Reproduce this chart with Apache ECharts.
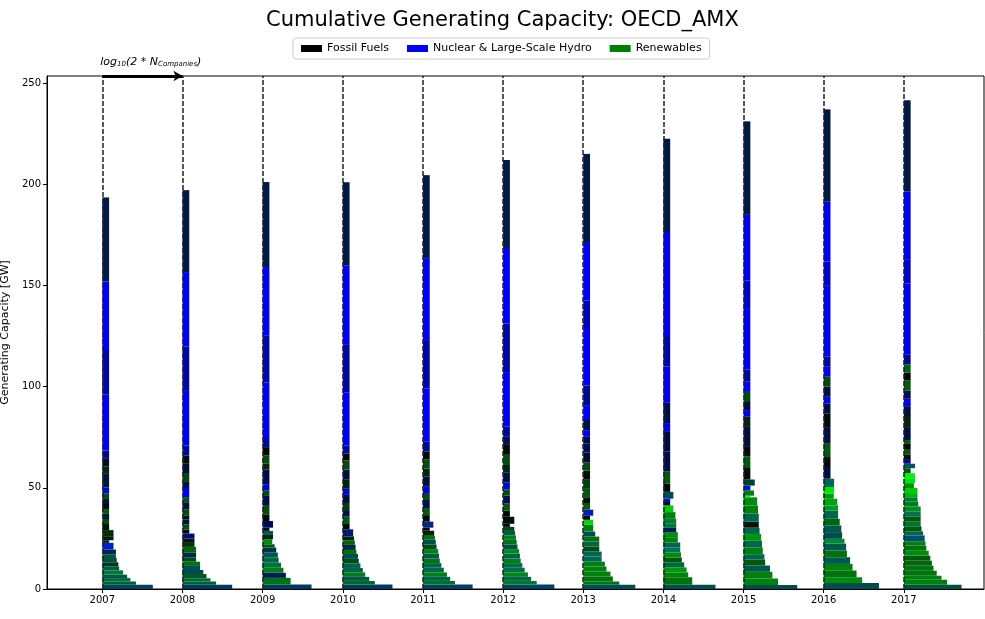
<!DOCTYPE html>
<html>
<head>
<meta charset="utf-8">
<title>Cumulative Generating Capacity</title>
<script src="https://cdn.jsdelivr.net/npm/echarts/dist/echarts.min.js"></script>
<style>
  html, body { margin: 0; padding: 0; background: #fff; }
  #main { width: 985px; height: 619px; }
</style>
</head>
<body>
<div id="main"></div>
<script>
// one row per company group, bottom-up: [capacity GW, bar width (log10 units), nuclear share, renewable share]
const years = [2007, 2008, 2009, 2010, 2011, 2012, 2013, 2014, 2015, 2016, 2017];
const yTicks = [0, 50, 100, 150, 200, 250];

const fleet2007 = [
  [2.1,.63,.38,.25],[1.6,.42,.2,.38],[1.7,.35,.25,.42],[1.7,.31,.25,.36],[2.1,.26,.22,.48],
  [2.0,.21,.3,.36],[2.0,.20,.08,.22],[2.1,.18,.3,.3],[1.7,.17,.12,.36],[2.5,.17,.35,.15],
  [3.3,.14,.8,.12],[1.3,.085,.1,.1],[2.0,.14,.04,.1],[3.0,.14,.04,.17],
  [3.0,.085,.04,.05],[2.5,.085,.05,.3],[2.5,.085,.25,.08],[2.4,.085,.05,.36],[2.5,.085,.03,.04],
  [2.5,.085,.25,.08],[2.8,.085,.05,.3],[2.9,.085,.9,.02],[6.7,.085,.25,.08],[3.6,.085,.04,.16],
  [3.8,.085,.15,.05],[4.1,.085,.55,.03],[27.6,.085,1,0],[22.1,.085,.65,.02],[33.9,.085,1,0],
  [41.5,.085,.27,.1]
];
const fleet2008 = [
  [2.1,.62,.38,.22],[1.6,.42,.2,.38],[1.6,.35,.2,.42],[2.1,.30,.15,.35],[2.0,.26,.3,.3],
  [2.0,.22,.35,.3],[2.1,.22,.1,.45],[2.1,.17,.1,.3],[2.3,.17,.3,.15],[2.9,.17,.05,.4],
  [2.0,.15,.03,.2],[2.1,.15,.03,.1],[2.5,.15,.5,.05],
  [2.0,.085,.03,.04],[2.5,.085,.05,.32],[2.5,.085,.25,.08],[2.0,.085,.03,.04],[3.0,.085,.05,.3],
  [3.5,.085,.25,.08],[2.5,.085,.05,.32],[4.5,.085,1,0],[3.0,.085,.3,.06],[4.0,.085,.05,.28],
  [5.0,.085,.22,.06],[4.0,.085,.03,.05],[5.0,.085,.6,.03],[27,.085,1,0],[22,.085,.65,.02],
  [36.7,.085,1,0],[40.5,.085,.27,.1]
];
const fleet2009 = [
  [2.2,.61,.38,.22],[3.3,.35,.1,.45],[2.5,.29,.35,.1],[2.5,.26,.1,.5],[2.5,.23,.2,.45],
  [2.5,.20,.3,.4],[2.5,.19,.3,.35],[2.5,.17,.3,.2],[1.6,.15,.05,.35],[2.5,.12,.05,.55],
  [2.1,.13,.03,.15],[2.0,.13,.35,.35],[1.6,.085,.03,.04],[3.3,.13,.4,.03],
  [3.3,.085,.03,.03],[4.2,.085,.05,.3],[4.9,.085,.3,.05],[2.8,.085,.05,.3],[3.0,.085,.9,0],
  [7.3,.085,.3,.05],[3.0,.085,.02,.15],[4.0,.085,.05,.3],[4.0,.085,.02,.03],[5.0,.085,.6,.03],
  [27,.085,1,0],[23,.085,.65,.02],[34,.085,1,0],[42,.085,.27,.1]
];
const fleet2010 = [
  [2.2,.62,.38,.22],[1.8,.40,.15,.42],[2.0,.33,.3,.35],[2.2,.28,.12,.48],[2.2,.25,.25,.4],
  [2.3,.22,.3,.38],[2.2,.20,.08,.3],[2.4,.19,.3,.3],[2.0,.17,.05,.45],[2.5,.16,.3,.15],
  [2.2,.15,.05,.4],[2.0,.14,.03,.15],[3.5,.13,.45,.1],
  [3.0,.085,.03,.04],[3.5,.085,.05,.35],[3.0,.085,.3,.06],[3.5,.085,.05,.25],[4.0,.085,.25,.06],
  [3.0,.085,.85,.02],[4.5,.085,.03,.15],[5.0,.085,.25,.06],[4.5,.085,.05,.3],[3.5,.085,.03,.04],
  [4.0,.085,.6,.03],[26,.085,1,0],[24,.085,.65,.02],[39,.085,1,0],[41,.085,.27,.1]
];
const fleet2011 = [
  [2.2,.62,.38,.25],[1.8,.40,.15,.45],[2.0,.34,.3,.38],[2.2,.30,.1,.5],[2.3,.26,.25,.42],
  [2.3,.23,.3,.4],[2.3,.21,.08,.45],[2.4,.20,.3,.35],[2.2,.19,.05,.5],[2.3,.17,.1,.3],
  [2.3,.16,.3,.3],[2.0,.15,.05,.45],[2.5,.14,.03,.15],[1.5,.085,.03,.04],[3.0,.13,.5,.15],
  [3.2,.085,.03,.04],[3.5,.085,.05,.35],[4.0,.085,.3,.06],[3.0,.085,.05,.3],[3.5,.085,.85,.02],
  [5.0,.085,.25,.06],[4.0,.085,.03,.15],[4.5,.085,.05,.3],[4.0,.085,.03,.04],[5.0,.085,.6,.03],
  [26,.085,1,0],[24,.085,.65,.02],[40.5,.085,1,0],[41,.085,.27,.1]
];
const fleet2012 = [
  [2.2,.64,.38,.25],[1.8,.42,.15,.48],[2.0,.35,.3,.4],[2.2,.31,.1,.52],[2.3,.27,.25,.45],
  [2.3,.24,.3,.42],[2.3,.22,.08,.5],[2.4,.21,.3,.38],[2.2,.20,.05,.55],[2.3,.18,.3,.3],
  [2.3,.17,.1,.45],[2.2,.16,.05,.5],[2.2,.15,.3,.35],[2.0,.14,.03,.3],[1.5,.085,.03,.04],
  [3.5,.14,.05,.06],
  [3.0,.085,.03,.04],[3.5,.085,.05,.35],[4.0,.085,.3,.06],[3.0,.085,.05,.3],[3.5,.085,.85,.02],
  [5.0,.085,.25,.06],[4.0,.085,.03,.15],[5.0,.085,.05,.3],[4.5,.085,.03,.04],[4.0,.085,.3,.06],
  [5.0,.085,.6,.03],[27,.085,1,0],[24,.085,.65,.02],[37.3,.085,1,0],[43.5,.085,.27,.1]
];
const fleet2013 = [
  [2.1,.65,.35,.3],[1.6,.45,.1,.45],[2.5,.37,.05,.45],[2.4,.34,.05,.5],[2.5,.29,.05,.5],
  [2.4,.27,.05,.5],[2.6,.23,.35,.4],[2.4,.23,.3,.4],[2.5,.20,.05,.3],[2.5,.20,.25,.4],
  [2.4,.20,.05,.45],[2.5,.15,.35,.3],[3.3,.125,.05,.5],[2.5,.125,.05,.85],[2.0,.085,.03,.04],
  [3.0,.125,.75,.1],
  [3.3,.085,.05,.35],[2.5,.085,.03,.04],[4.5,.085,.05,.35],[4.5,.085,.05,.25],[4.5,.085,.03,.05],
  [4.0,.085,.05,.3],[5.0,.085,.2,.05],[4.5,.085,.35,.05],[3.5,.085,.3,.04],[3.0,.085,1,0],
  [5.0,.085,.3,.05],[7.0,.085,1,0],[10,.085,.55,.03],[28,.085,1,0],[14,.085,.7,.02],
  [28.5,.085,1,0],[44,.085,.27,.1]
];
const fleet2014 = [
  [2.1,.65,.32,.3],[3.7,.36,.05,.45],[2.4,.31,.05,.5],[2.5,.29,.05,.6],[2.5,.26,.25,.4],
  [2.4,.23,.05,.35],[2.5,.22,.05,.55],[2.5,.21,.35,.45],[2.4,.21,.3,.4],[2.6,.18,.05,.5],
  [2.5,.18,.05,.55],[2.1,.16,.35,.1],[2.3,.16,.3,.45],[2.2,.16,.15,.5],[3.3,.15,.05,.5],
  [3.3,.125,.05,.8],[1.7,.085,.03,.04],[1.6,.085,.9,.05],[3.4,.125,.35,.3],
  [4.0,.085,.03,.04],[6.0,.085,.05,.35],[10,.085,.3,.05],[10,.085,.25,.05],[4.0,.085,1,0],
  [10,.085,.3,.05],[18,.085,1,0],[15,.085,.65,.02],[51.4,.085,1,0],[46.1,.085,.27,.1]
];
const fleet2015 = [
  [2.0,.67,.3,.3],[3.2,.43,.05,.5],[3.3,.36,.05,.5],[3.1,.33,.3,.35],[3.0,.27,.05,.35],
  [2.6,.26,.3,.4],[3.4,.24,.05,.5],[3.2,.23,.3,.4],[3.4,.22,.05,.6],[3.1,.20,.3,.4],
  [3.0,.19,.03,.08],[4.0,.19,.3,.4],[4.0,.18,.05,.5],[4.0,.17,.05,.55],[0.8,.085,.05,.95],
  [2.6,.13,.05,.5],[2.4,.085,.9,.05],[3.0,.14,.2,.25],
  [5.7,.085,.03,.04],[5.8,.085,.05,.35],[5.0,.085,.03,.04],[9.5,.085,.25,.06],[5.0,.085,.03,.15],
  [3.3,.085,1,0],[4.0,.085,.25,.05],[5.0,.085,.05,.3],[5.0,.085,1,0],[6.0,.085,.6,.03],
  [30,.085,1,0],[14,.085,.8,.01],[32.5,.085,1,0],[46.2,.085,.27,.1]
];
const fleet2016 = [
  [3.0,.69,.3,.3],[2.8,.48,.05,.55],[3.3,.41,.05,.45],[3.3,.36,.05,.5],[3.3,.33,.3,.35],
  [3.3,.29,.05,.45],[3.4,.28,.3,.35],[2.4,.26,.2,.55],[3.3,.23,.3,.3],[3.3,.22,.3,.35],
  [3.3,.20,.05,.4],[4.1,.18,.3,.4],[2.5,.18,.15,.6],[3.3,.17,.05,.65],[2.5,.125,.05,.6],
  [3.3,.13,.05,.9],[4.1,.13,.35,.4],
  [5.8,.085,.25,.06],[4.9,.085,.03,.04],[6.6,.085,.05,.35],[8.2,.085,.25,.06],[6.8,.085,.03,.04],
  [4.9,.085,.25,.06],[3.3,.085,1,0],[5.0,.085,.25,.06],[4.9,.085,.05,.3],[4.9,.085,1,0],
  [5.0,.085,.6,.03],[35,.085,1,0],[12,.085,.8,.01],[29.6,.085,1,0],[45.6,.085,.27,.1]
];
const fleet2017 = [
  [2.1,.72,.25,.32],[2.5,.54,.05,.5],[2.0,.47,.05,.5],[2.4,.41,.05,.45],[2.5,.37,.05,.45],
  [2.5,.35,.05,.4],[2.5,.33,.05,.35],[2.4,.31,.05,.55],[2.5,.28,.05,.45],[2.2,.27,.05,.5],
  [2.9,.26,.45,.3],[2.0,.24,.3,.4],[2.5,.22,.05,.35],[2.5,.21,.2,.45],[2.4,.21,.05,.35],
  [2.5,.21,.3,.45],[2.4,.21,.15,.55],[2.5,.18,.05,.5],[1.7,.17,.3,.45],[2.4,.17,.05,.7],
  [2.5,.17,.05,.8],[2.4,.125,.05,.55],[2.5,.14,.05,.9],[2.4,.14,.05,.95],
  [2.5,.085,.05,.35],[2.2,.14,.35,.35],[1.9,.085,.6,.03],[2.5,.085,.03,.04],[2.5,.085,.05,.35],
  [2.9,.085,.03,.04],[1.9,.085,.05,.35],
  [6.4,.085,.25,.06],[5.0,.085,.03,.15],[5.0,.085,.25,.06],[4.0,.085,1,0],[4.0,.085,.3,.05],
  [5.0,.085,.05,.35],[4.0,.085,.03,.04],[4.0,.085,.05,.4],[5.0,.085,.6,.03],
  [35,.085,1,0],[12,.085,.8,.01],[33.5,.085,1,0],[45,.085,.27,.1]
];
const fleets = [fleet2007, fleet2008, fleet2009, fleet2010, fleet2011, fleet2012,
  fleet2013, fleet2014, fleet2015, fleet2016, fleet2017];

const yMax = 253.5;

// stack each year's groups: [year, bottom, top, width, nuclear, renewable]
const rects = [];
fleets.forEach(function (fleet, i) {
  let base = 0;
  fleet.forEach(function (d) {
    rects.push([years[i], base, base + d[0], d[1], d[2], d[3]]);
    base += d[0];
  });
});

var myChart = echarts.init(document.getElementById("main"));

const font = "DejaVu Sans";

option = {
  animation: false,
  title: {
    text: "Cumulative Generating Capacity: OECD_AMX",
    left: 261,
    top: 5,
    textStyle: { fontFamily: font, fontSize: 21, fontWeight: "normal", color: "#000" },
  },
  legend: {
    left: 293,
    top: 38,
    icon: "rect",
    itemWidth: 21,
    itemHeight: 7,
    itemGap: 18,
    padding: [5, 8],
    borderColor: "#ccc",
    borderWidth: 1,
    borderRadius: 3,
    textStyle: { fontFamily: font, fontSize: 11, color: "#000" },
    data: ["Fossil Fuels", "Nuclear & Large-Scale Hydro", "Renewables"],
  },
  grid: {
    left: 47,
    right: 1,
    top: 76,
    bottom: 30,
    outerBoundsMode: "none",
    containLabel: false,
    show: true,
    borderColor: "#000",
    borderWidth: 1,
  },
  xAxis: {
    type: "value",
    min: 2006.31,
    max: 2018.0,
    splitLine: { show: false },
    axisLine: { lineStyle: { color: "#000" } },
    axisTick: { customValues: years, length: 4, lineStyle: { color: "#000" } },
    axisLabel: {
      customValues: years,
      formatter: function (v) { return String(v); },
      fontFamily: font,
      fontSize: 10,
      color: "#000",
      margin: 6,
    },
  },
  yAxis: {
    type: "value",
    min: 0,
    max: yMax,
    name: "Generating Capacity [GW]",
    nameLocation: "middle",
    nameGap: 27,
    nameTextStyle: { fontFamily: font, fontSize: 11, color: "#000" },
    splitLine: { show: false },
    axisLine: { show: true, lineStyle: { color: "#000" } },
    axisTick: { show: true, customValues: yTicks, length: 4, lineStyle: { color: "#000" } },
    axisLabel: { customValues: yTicks, fontFamily: font, fontSize: 10, color: "#000", margin: 6 },
  },
  series: [
    {
      type: "custom",
      name: "companies",
      encode: { x: 0, y: [1, 2] },
      data: rects,
      renderItem: function (params, api) {
        const x = api.value(0);
        const p0 = api.coord([x, api.value(2)]);
        const p1 = api.coord([x + api.value(3), api.value(1)]);
        const g = Math.round(255 * api.value(5));
        const b = Math.round(255 * api.value(4));
        return {
          type: "rect",
          shape: { x: p0[0], y: p0[1], width: p1[0] - p0[0], height: p1[1] - p0[1] },
          style: { fill: "rgb(0," + g + "," + b + ")" },
        };
      },
      z: 2,
    },
    {
      // dashed year lines + width scale arrow
      type: "line",
      name: "marks",
      data: [],
      z: 5,
      markLine: {
        silent: true,
        animation: false,
        symbol: "none",
        data: years.map(function (y) {
          return {
            xAxis: y,
            lineStyle: { type: [5, 2], color: "#222", width: 1.5 },
            label: { show: false },
          };
        }).concat([
          [
            { coord: [2007, yMax], symbol: "none" },
            {
              coord: [2008, yMax],
              symbol: "arrow",
              symbolSize: [8, 9],
              lineStyle: { type: "solid", color: "#000", width: 3 },
              label: {
                show: true,
                position: "insideStartTop",
                distance: [-2, 8],
                formatter: "{i|log}{s|10}{i|(2 * N}{s|Companies}{i|)}",
                rich: {
                  i: { fontFamily: font, fontStyle: "italic", fontSize: 11, color: "#000" },
                  s: { fontFamily: font, fontStyle: "italic", fontSize: 7, color: "#000", padding: [5, 0, 0, 0] },
                },
              },
            },
          ],
        ]),
      },
    },
    { type: "line", name: "Fossil Fuels", data: [], color: "#000" },
    { type: "line", name: "Nuclear & Large-Scale Hydro", data: [], color: "#0000ff" },
    { type: "line", name: "Renewables", data: [], color: "#008000" },
  ],
};

myChart.setOption(option);
</script>
</body>
</html>
